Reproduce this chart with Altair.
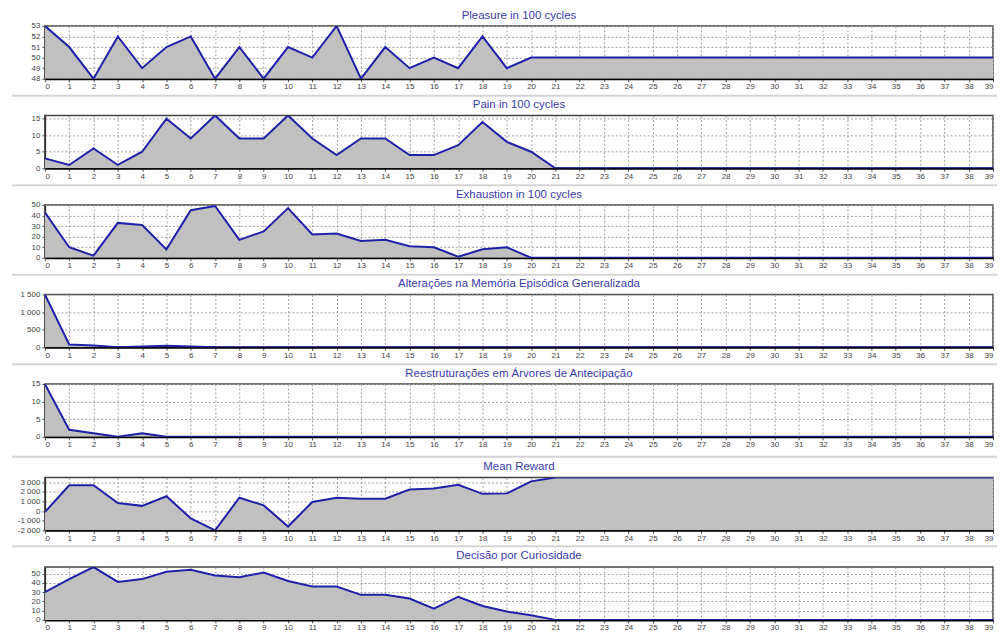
import altair as alt
import pandas as pd

x_vals = list(range(40))

titles = [
    "Pleasure in 100 cycles",
    "Pain in 100 cycles",
    "Exhaustion in 100 cycles",
    "Alterações na Memória Episódica Generalizada",
    "Reestruturações em Árvores de Antecipação",
    "Mean Reward",
    "Decisão por Curiosidade",
]

pleasure = [53, 51, 48, 52, 49, 51, 52, 48, 51, 48, 51, 50, 53, 48, 51, 49, 50, 49, 52, 49] + [50] * 20
pain = [3, 1, 6, 1, 5, 15, 9, 16, 9, 9, 16, 9, 4, 9, 9, 4, 4, 7, 14, 8, 5] + [0] * 19
exhaustion = [43, 10, 2, 33, 31, 8, 45, 49, 17, 25, 47, 22, 23, 16, 17, 11, 10, 1, 8, 10] + [0] * 20
alteracoes = [1500, 80, 50, 5, 20, 45, 20] + [0] * 33
reestruturacoes = [15, 2, 1, 0, 1, 0] + [0] * 34
mean_reward = [-100, 2700, 2700, 850, 550, 1550, -750, -2000, 1400, 600, -1600, 950, 1400,
               1300, 1300, 2250, 2350, 2750, 1800, 1850, 3100] + [3500] * 19
decisao = [30, 44, 57, 41, 44, 52, 54, 48, 46, 51, 42, 36, 36, 27, 27, 23, 12, 25, 15, 9, 5] + [0] * 19

series = [pleasure, pain, exhaustion, alteracoes, reestruturacoes, mean_reward, decisao]

domains = [(48, 53), (0, 16), (0, 50), (0, 1500), (0, 15), (-2000, 3500), (0, 57)]
y_ticks = [
    [48, 49, 50, 51, 52, 53],
    [0, 5, 10, 15],
    [0, 10, 20, 30, 40, 50],
    [0, 500, 1000, 1500],
    [0, 5, 10, 15],
    [-2000, -1000, 0, 1000, 2000, 3000],
    [0, 10, 20, 30, 40, 50],
]

PLOT_LEFT = 43
PLOT_W = 951
PLOT_H = 53
sep_offsets = [17, 17, 17, 17, 20, 16, None]
title_offsets = [0.75, 4, 0.75, 0.75, 0.75, 5.25, 5.25]

FILL = "#c0c0c0"
LINE = "#2020a8"

label_expr = "(datum.value < 0 ? '-' : '') + replace(format(abs(datum.value), ','), ',', ' ')"

panels = []
for i in range(7):
    df = pd.DataFrame({"x": x_vals, "v": series[i]})
    lo, hi = domains[i]
    xsc = alt.Scale(domain=[0, 39], nice=False, zero=False)
    ysc = alt.Scale(domain=[lo, hi], nice=False, zero=False)
    xax = alt.Axis(values=x_vals, title=None, labelOverlap=False, domainColor="#000",
                   domainWidth=2, labelPadding=1, tickCount=40)
    yax = alt.Axis(values=y_ticks[i], title=None, labelExpr=label_expr, labelPadding=2,
                   tickCount=len(y_ticks[i]), labelOverlap=False)
    x_enc = alt.X("x:Q", scale=xsc, axis=xax)
    y_enc = alt.Y("v:Q", scale=ysc, axis=yax)
    base = alt.Chart(df)
    area = base.mark_area(color=FILL, clip=True).encode(x=x_enc, y=y_enc, y2=alt.datum(lo))
    line = base.mark_line(color=LINE, strokeWidth=2, clip=True).encode(x=x_enc, y=y_enc)
    one = pd.DataFrame({"k": [0]})
    anchor = alt.Chart(one).mark_rule(color="#ffffff", strokeWidth=1).encode(
        x=alt.value(-(PLOT_LEFT - 8)),
        x2=alt.value(-(PLOT_LEFT - 8) + 1),
        y=alt.value(PLOT_H / 2),
    )
    layers = [area, line, anchor]
    if sep_offsets[i] is not None:
        sep = alt.Chart(one).mark_rule(color="#d4d4d4", strokeWidth=2).encode(
            x=alt.value(-(PLOT_LEFT - 10)),
            x2=alt.value(PLOT_W + 4),
            y=alt.value(PLOT_H + sep_offsets[i]),
        )
        layers.append(sep)
    ch = alt.layer(*layers).properties(
        width=PLOT_W, height=PLOT_H,
        title=alt.TitleParams(titles[i], offset=title_offsets[i]),
    )
    panels.append(ch)

chart = alt.vconcat(*panels, spacing=0.8).properties(
    padding={"left": 0, "top": 0, "right": 0, "bottom": -2}
).configure_view(
    stroke="#444", strokeWidth=1.5
).configure_axis(
    grid=True, gridDash=[2, 2], gridColor="#a0a0a0", gridWidth=1,
    labelFont="Liberation Sans", labelFontSize=8, labelColor="#444",
    tickColor="#555", tickSize=3, domainColor="#333", domainWidth=1.5,
).configure_title(
    font="Liberation Sans", fontSize=11.5, color="#3a3aaa", fontWeight="normal",
    anchor="middle",
)

chart.save("out.html", embed_options={"renderer": "svg", "actions": False})
